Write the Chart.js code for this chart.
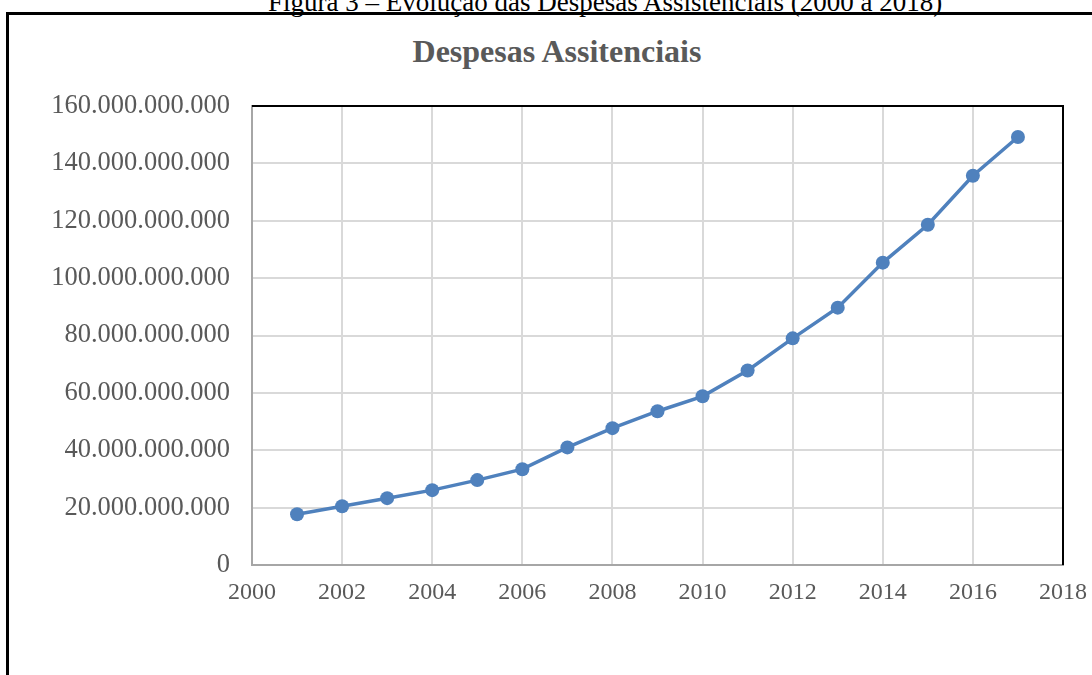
<!DOCTYPE html>
<html>
<head>
<meta charset="utf-8">
<script src="https://cdn.jsdelivr.net/npm/chart.js@4"></script>
<style>
  body { margin: 0; background: #fff; overflow: hidden; }
  #caption {
    position: absolute; left: 268px; top: -11px;
    font: 27px "Liberation Serif", "Times New Roman", serif;
    color: #000; white-space: nowrap; line-height: 1;
  }
  #title {
    position: absolute; left: 357px; width: 400px; top: 35px; text-align: center;
    font: bold 32px "Liberation Serif", "Times New Roman", serif;
    color: #595959; white-space: nowrap; line-height: 1;
  }
  #frame {
    position: absolute; left: 6px; top: 12px; width: 1200px; height: 800px;
    border-left: 3px solid #000; border-top: 3px solid #000;
  }
  #chart { position: absolute; left: 0; top: 0; }
</style>
</head>
<body>
<div id="caption">Figura 3 – Evolução das Despesas Assistenciais (2000 a 2018)</div>
<div id="frame"></div>
<div id="title">Despesas Assitenciais</div>
<canvas id="chart" width="1092" height="675"></canvas>
<script>
// anos e despesas assistenciais (R$)
const years = [2001, 2002, 2003, 2004, 2005, 2006, 2007, 2008, 2009, 2010, 2011, 2012, 2013, 2014, 2015, 2016, 2017];
const despesas = [
  17700000000, 20500000000, 23300000000, 26100000000, 29600000000, 33400000000,
  41000000000, 47700000000, 53600000000, 58800000000, 67800000000, 79000000000,
  89700000000, 105400000000, 118600000000, 135700000000, 149200000000
];
const xMin = 2000, xMax = 2018, xStep = 2;
const yMin = 0, yMax = 160000000000, yStep = 20000000000;

const serif = '"Liberation Serif", "Times New Roman", serif';
const gray = "#595959";

function fmtDots(v) {
  return String(Math.round(v)).replace(/\B(?=(\d{3})+(?!\d))/g, ".");
}

// borda preta em cima e a direita da area do grafico
const plotBorder = {
  id: "plotBorder",
  afterDatasetsDraw(c) {
    const a = c.chartArea, ctx = c.ctx;
    ctx.save();
    ctx.strokeStyle = "#000";
    ctx.lineWidth = 2;
    ctx.beginPath();
    ctx.moveTo(a.left, a.top);
    ctx.lineTo(a.right, a.top);
    ctx.lineTo(a.right, a.bottom);
    ctx.stroke();
    ctx.restore();
  }
};

new Chart(document.getElementById("chart"), {
  type: "line",
  data: {
    datasets: [{
      data: years.map((y, i) => ({ x: y, y: despesas[i] })),
      borderColor: "#4f81bd",
      backgroundColor: "#4f81bd",
      borderWidth: 3.5,
      pointRadius: 7,
      pointHoverRadius: 7,
      pointBorderWidth: 0,
      tension: 0
    }]
  },
  options: {
    responsive: false,
    animation: false,
    layout: { padding: { left: 0, right: 29, top: 106, bottom: 0 } },
    plugins: {
      legend: { display: false },
      tooltip: { enabled: false },
      title: { display: false }
    },
    scales: {
      x: {
        type: "linear",
        min: xMin, max: xMax,
        afterFit: s => { s.height = 110; },
        ticks: {
          stepSize: xStep,
          color: gray,
          padding: 0,
          font: { family: serif, size: 24 },
          callback: v => String(v)
        },
        grid: { color: "#d9d9d9", lineWidth: 2, drawTicks: true, tickLength: 13, tickColor: "rgba(0,0,0,0)" },
        border: { color: "#a6a6a6", width: 2 }
      },
      y: {
        min: yMin, max: yMax,
        afterFit: s => { s.width = 252; },
        ticks: {
          stepSize: yStep,
          color: gray,
          padding: 22,
          font: { family: serif, size: 26.5 },
          callback: v => fmtDots(v)
        },
        grid: { color: "#d9d9d9", lineWidth: 2, drawTicks: false },
        border: { color: "#a6a6a6", width: 2 }
      }
    }
  },
  plugins: [plotBorder]
});
</script>
</body>
</html>
